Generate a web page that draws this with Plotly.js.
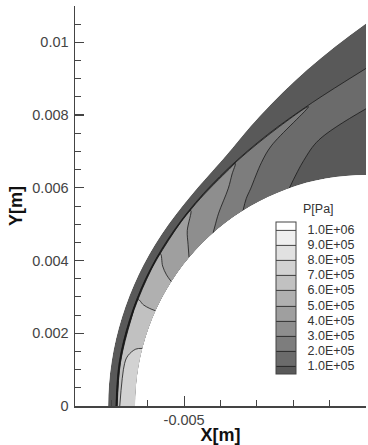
<!DOCTYPE html>
<html><head><meta charset="utf-8">
<script src="https://cdn.plot.ly/plotly-3.0.1.min.js"></script>
<style>html,body{margin:0;padding:0;background:#fff}#chart{width:368px;height:445px}</style>
</head><body><div id="chart"></div>
<script>
// Angle along the body, measured from the stagnation line (deg)
const phiDeg = [0, 10, 20, 30, 40, 50, 60, 70, 80, 90];
// Body (wall) radius [m]
const wallRadius = 0.00635;
// Shock radius at each angle [m]
const shockRadius = [0.006834, 0.00685, 0.00688, 0.00696, 0.00708, 0.00726, 0.00752, 0.00790, 0.00844, 0.009256];
// Outer boundary radius at each angle [m]
const outerRadius = [0.00709, 0.00710, 0.00714, 0.00722, 0.00734, 0.00752, 0.00785, 0.00850, 0.00938, 0.01052];
// Pressure [Pa / 1e5] across the layer at each angle
const pWall        = [7.6, 7.4, 6.5, 5.35, 4.0, 2.83, 1.77, 1.01, 0.85, 0.80];
const pThird       = [7.45, 7.35, 6.45, 5.4, 4.2, 3.3, 2.15, 1.4, 0.70, 0.85];
const pTwoThird    = [7.15, 7.15, 6.4, 5.5, 4.4, 3.5, 2.85, 1.6, 1.24, 1.02];
const pBehindShock = [6.9, 6.7, 6.35, 5.65, 4.65, 3.85, 3.1, 2.5, 1.95, 1.2];
const pAheadShock  = [0.8, 0.8, 0.8, 0.8, 0.8, 0.8, 0.82, 0.85, 0.88, 0.9];
const pOuter       = [0.8, 0.8, 0.8, 0.8, 0.8, 0.8, 0.8, 0.8, 0.8, 0.8];
// Legend levels and labels
const levelValues = [1e5, 2e5, 3e5, 4e5, 5e5, 6e5, 7e5, 8e5, 9e5, 1e6];
const levelLabels = ['1.0E+05','2.0E+05','3.0E+05','4.0E+05','5.0E+05','6.0E+05','7.0E+05','8.0E+05','9.0E+05','1.0E+06'];
// Band grays from darkest (<1e5) to white (>1e6)
const bandGrays = ['#595959','#6b6b6b','#7d7d7d','#8e8e8e','#9f9f9f','#b0b0b0','#c1c1c1','#d2d2d2','#e1e1e1','#efefef','#ffffff'];
const xTickVals = [-0.005, 0], xTickText = ['-0.005', '0'];
const yTickVals = [0, 0.002, 0.004, 0.006, 0.008, 0.01], yTickText = ['0','0.002','0.004','0.006','0.008','0.01'];

// Build body-fitted grid (layers along rays)
const layerIdx = [0, 1, 2, 3, 4, 5];
const X = [], Y = [], Z = [];
const thin = 0.00004;
phiDeg.forEach((p, j) => {
  const t = p * Math.PI / 180;
  const rs = shockRadius[j];
  const radii = [wallRadius, wallRadius + (rs - wallRadius) / 3, wallRadius + 2 * (rs - wallRadius) / 3, rs, rs + thin, outerRadius[j]];
  X.push(radii.map(r => (p === 90 ? 0 : -r * Math.cos(t))));
  Y.push(radii.map(r => r * Math.sin(t)));
  Z.push([pWall[j], pThird[j], pTwoThird[j], pBehindShock[j], pAheadShock[j], pOuter[j]].map(v => v * 1e5));
});

const hiddenAxis = {showgrid: false, showline: false, showticklabels: 'none', startline: false, endline: false,
  minorgridcount: 0, gridwidth: 0, linewidth: 0};
const font = 'Liberation Sans, Arial, Helvetica, sans-serif';

const data = [
  {type: 'carpet', carpet: 'c1', a: layerIdx, b: phiDeg, x: X, y: Y,
   aaxis: Object.assign({smoothing: 0}, hiddenAxis), baxis: Object.assign({smoothing: 1}, hiddenAxis), hoverinfo: 'skip'},
  {type: 'contourcarpet', carpet: 'c1', a: layerIdx, b: phiDeg, z: Z, autocontour: false,
   contours: {start: levelValues[0], end: levelValues[levelValues.length - 1], size: 1e5, coloring: 'fill', showlines: true},
   line: {color: '#1a1a1a', width: 0.8, smoothing: 1},
   colorscale: bandGrays.map((c, k) => [k / (bandGrays.length - 1), c]),
   showscale: true,
   colorbar: {x: 0.6907, xanchor: 'left', y: 0.461, yanchor: 'top', len: 152, lenmode: 'pixels',
     thickness: 20, thicknessmode: 'pixels', xpad: 0, ypad: 0, outlinewidth: 1, outlinecolor: '#444',
     tickmode: 'array', tickvals: levelValues, ticktext: levelLabels, ticks: 'outside', ticklen: 9,
     tickcolor: 'rgba(0,0,0,0)', tickfont: {family: font, size: 12.5, color: '#333'}},
   hoverinfo: 'skip'}
];

const layout = {
  width: 368, height: 445, margin: {l: 75, r: 2, t: 6, b: 39, autoexpand: false},
  paper_bgcolor: '#fff', plot_bgcolor: '#fff', showlegend: false,
  font: {family: font, color: '#333'},
  xaxis: {range: [-0.008, 0], showgrid: false, zeroline: false, showline: true, linecolor: '#444', linewidth: 1.5,
    ticks: 'inside', ticklen: 10, tickcolor: '#444', tickwidth: 1.2, tickmode: 'array', tickvals: xTickVals, ticktext: xTickText,
    tickfont: {size: 14.5, color: '#444'},
    minor: {tickmode: 'linear', tick0: 0, dtick: 0.001, ticks: 'inside', ticklen: 6, tickcolor: '#444', tickwidth: 1},
    title: {text: 'X[m]', font: {size: 18, color: '#111', weight: 'bold'}, standoff: 1}},
  yaxis: {range: [0, 0.011], showgrid: false, zeroline: false, showline: true, linecolor: '#444', linewidth: 1.5,
    ticks: 'inside', ticklen: 9, tickcolor: '#444', tickwidth: 1.2, tickmode: 'array', tickvals: yTickVals, ticktext: yTickText,
    tickfont: {size: 14.5, color: '#444'}, ticklabelstandoff: 2,
    minor: {tickmode: 'linear', tick0: 0, dtick: 0.0005, ticks: 'inside', ticklen: 6, tickcolor: '#444', tickwidth: 1},
    title: {text: 'Y[m]', font: {size: 18, color: '#111', weight: 'bold'}, standoff: 5}},
  annotations: [{text: 'P[Pa]', xref: 'paper', yref: 'paper', x: 0.836, y: 0.4925, xanchor: 'center', yanchor: 'middle',
    showarrow: false, font: {size: 12.5, color: '#333'}}]
};

Plotly.newPlot('chart', data, layout, {staticPlot: true, displayModeBar: false});
</script></body></html>
